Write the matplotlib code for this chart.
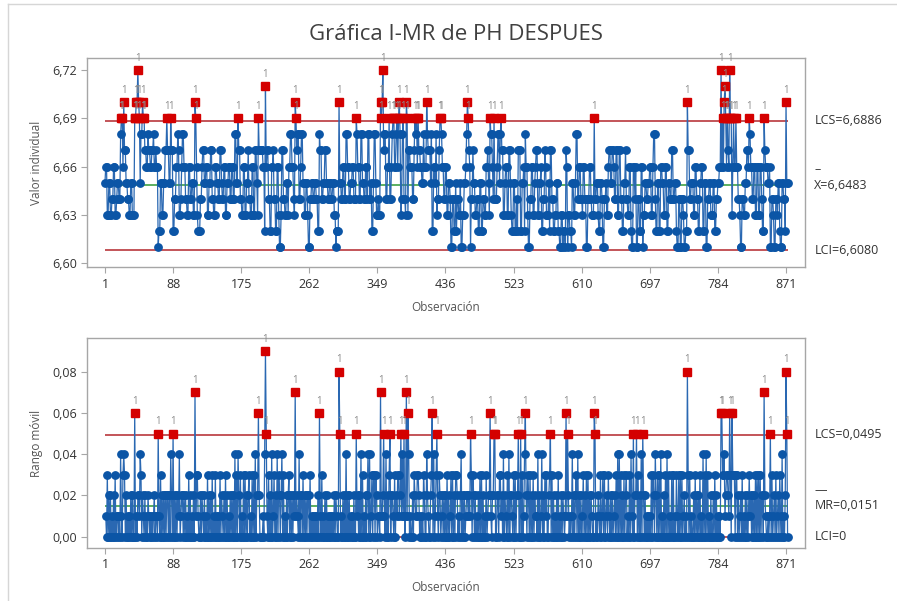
import numpy as np
import matplotlib
matplotlib.use("Agg")
import matplotlib.pyplot as plt
from matplotlib.lines import Line2D
from matplotlib.ticker import FuncFormatter

# PH DESPUES: cada caracter = centesimas sobre 6,60 (hex: a=10, b=11, c=12)
obs_001_100 = ("566335533446633455448996a"
               "775544335533399aaca9588a9"
               "9776687766778667661225533"
               "5577977559772244668733468")
obs_101_200 = ("866443366445533a963222446"
               "7755663355774433665544775"
               "4466335566446644885597744"
               "3366335574433663377539777")
obs_201_300 = ("77662b6774422667442266311"
               "377443355366886643a978844"
               "6885533553114455445544228"
               "774455775544554455331222a")
obs_301_400 = ("5544664488664455664449866"
               "4488554466488445225885334"
               "33a9ac7884466944689966896"
               "9a83489443a93776664479896")
obs_401_500 = ("97766558666a8777582266583"
               "4479986644663355411442252"
               "4433511335568a97614475533"
               "4422552244336675398864944")
obs_501_600 = ("4688589773356633775322552"
               "2427772255628663114466335"
               "6773355622447633352774422"
               "3355221133122176133221553")
obs_601_700 = ("3588446644366441144664333"
               "9445532255411445336775577"
               "6447733774422557443366211"
               "6646114422661335544556633")
obs_701_800 = ("6884225522665533662255447"
               "7445521144114431122a77445"
               "5533664422556622551144553"
               "335522445566c696ab96976c9")
obs_801_873 = ("9369669664431144335577698"
               "6644663366336642297666556"
               "11443114435521155442a55")

lcs_i, media_i, lci_i = 6.6886, 6.6483, 6.6080
lcs_mr, media_mr, lci_mr = 0.0495, 0.0151, 0.0
ticks_x = [1, 88, 175, 262, 349, 436, 523, 610, 697, 784, 871]
ticks_i = [6.60, 6.63, 6.66, 6.69, 6.72]
ticks_mr = [0.00, 0.02, 0.04, 0.06, 0.08]

plt.rcParams['font.family'] = ['Open Sans', 'DejaVu Sans']

AZUL = '#0b55a6'
AZUL_LINEA = '#2a68b2'
ROJO = '#d40000'
ROJO_LINEA = '#b3262b'
VERDE = '#2f9a35'
GRIS = '#a6a6a6'
TEXTO = '#333333'

codigo = (obs_001_100 + obs_101_200 + obs_201_300 + obs_301_400 + obs_401_500
          + obs_501_600 + obs_601_700 + obs_701_800 + obs_801_873)
centesimas = np.array([int(c, 16) for c in codigo])
n = len(centesimas)
ph = (660 + centesimas) / 100
mr = np.abs(np.diff(centesimas)) / 100
x_i = np.arange(1, n + 1)
x_mr = np.arange(2, n + 1)

coma = FuncFormatter(lambda v, p: f"{v:.2f}".replace('.', ','))


def dibujar(ax, x, y, lcs, media, lci, ylim, yticks, ylabel):
    ax.hlines([lcs, lci], 1, n, color=ROJO_LINEA, lw=1.1, zorder=2)
    ax.hlines(media, 1, n, color=VERDE, lw=1.1, zorder=2)
    ax.plot(x, y, color=AZUL_LINEA, lw=0.9, zorder=3)
    ax.plot(x, y, 'o', ms=5.3, color=AZUL, mec=AZUL, zorder=4)
    fuera = (y > lcs) | (y < lci)
    ax.plot(x[fuera], y[fuera], 's', ms=6, color=ROJO, mec=ROJO, zorder=5)
    for xi, yi in zip(x[fuera], y[fuera]):
        ax.annotate('1', (xi, yi), xytext=(0, 4.5), textcoords='offset points',
                    ha='center', va='bottom', fontsize=7, color='#8c8c8c', zorder=6)

    ax.set_xlim(-21.6, 895.2)
    ax.set_ylim(*ylim)
    ax.set_xticks(ticks_x)
    ax.set_yticks(yticks)
    ax.yaxis.set_major_formatter(coma)
    for s in ax.spines.values():
        s.set_color(GRIS)
        s.set_linewidth(1.0)
    ax.tick_params(length=4, width=0.8, color=GRIS, labelcolor=TEXTO, labelsize=9)
    ax.set_ylabel(ylabel, fontsize=8.5, color='#555555')
    ax.yaxis.set_label_coords(-0.062, 0.5)
    ax.set_xlabel('Observación', fontsize=8.5, color='#555555')
    ax.xaxis.set_label_coords(0.5, -0.16)


fig = plt.figure(figsize=(8.97, 6.01), dpi=100)
fig.patch.set_facecolor('white')

ax1 = fig.add_axes([0.0973, 0.5552, 0.8001, 0.3483])
ax2 = fig.add_axes([0.0973, 0.0887, 0.8001, 0.3484])

dibujar(ax1, x_i, ph, lcs_i, media_i, lci_i, (6.5973, 6.7275), ticks_i, 'Valor individual')
dibujar(ax2, x_mr, mr, lcs_mr, media_mr, lci_mr, (-0.0053, 0.0962), ticks_mr, 'Rango móvil')

# etiquetas de limites a la derecha
yt1 = ax1.get_yaxis_transform()
ax1.text(1.013, lcs_i, 'LCS=6,6886', transform=yt1, va='center', fontsize=9, color=TEXTO)
ax1.text(1.013, media_i, 'X=6,6483', transform=yt1, va='center', fontsize=9, color=TEXTO)
ax1.text(1.013, media_i + 0.0095, '–', transform=yt1, va='center', fontsize=9, color=TEXTO)
ax1.text(1.013, lci_i, 'LCI=6,6080', transform=yt1, va='center', fontsize=9, color=TEXTO)

yt2 = ax2.get_yaxis_transform()
ax2.text(1.013, lcs_mr, 'LCS=0,0495', transform=yt2, va='center', fontsize=9, color=TEXTO)
ax2.text(1.013, media_mr, 'MR=0,0151', transform=yt2, va='center', fontsize=9, color=TEXTO)
ax2.text(1.013, media_mr + 0.0073, '—', transform=yt2, va='center', fontsize=9, color=TEXTO)
ax2.text(1.013, lci_mr, 'LCI=0', transform=yt2, va='center', fontsize=9, color=TEXTO)

fig.text(0.508, 1 - 35 / 601, 'Gráfica I-MR de PH DESPUES', ha='center', va='center',
         fontsize=16, color='#404040')

# marco claro de la captura
fig.add_artist(Line2D([8 / 897, 1], [1 - 4 / 601, 1 - 4 / 601], color='#d6d6d6', lw=1))
fig.add_artist(Line2D([8 / 897, 8 / 897], [0, 1 - 4 / 601], color='#d6d6d6', lw=1))

fig.savefig('out.png', dpi=100)
